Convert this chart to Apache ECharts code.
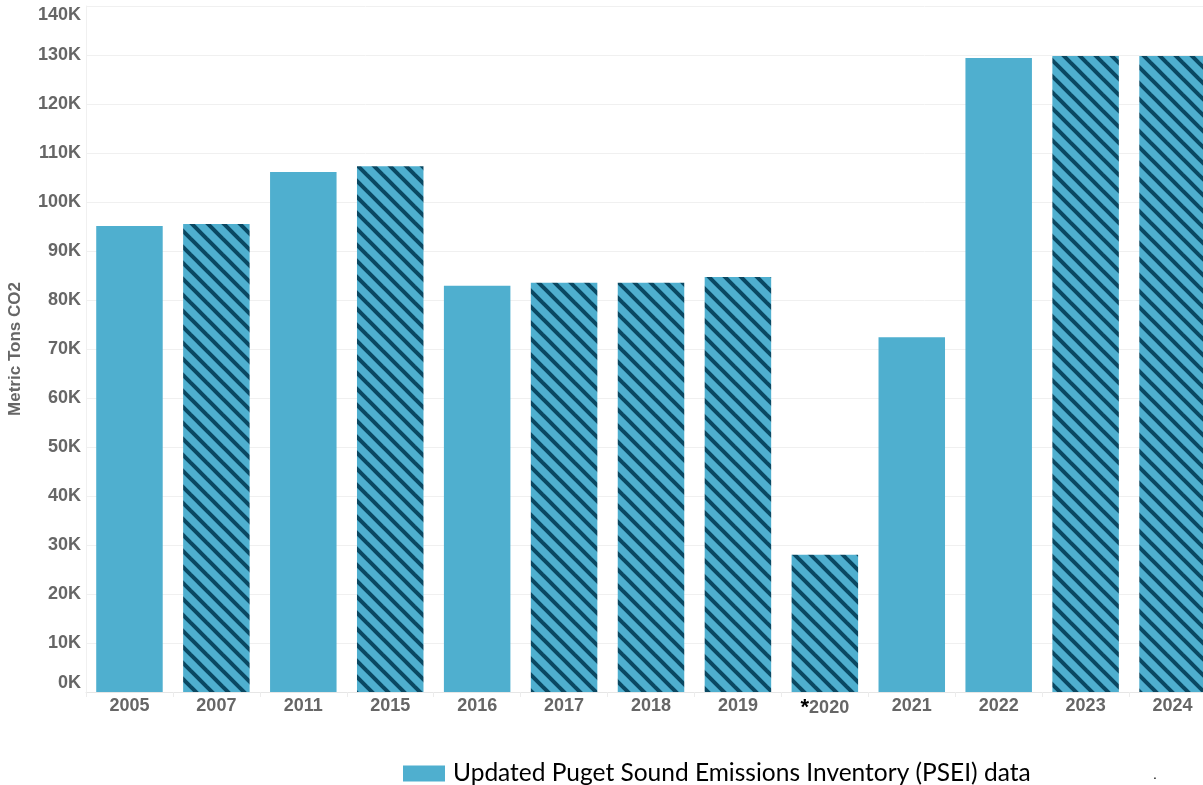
<!DOCTYPE html>
<html>
<head>
<meta charset="utf-8">
<script src="https://cdn.jsdelivr.net/npm/echarts@6/dist/echarts.min.js"></script>
<style>html,body{margin:0;padding:0;background:#fff}#c{width:1203px;height:785px}</style>
</head>
<body>
<div id="c"></div>
<script>
const years = ['2005','2007','2011','2015','2016','2017','2018','2019','2020','2021','2022','2023','2024'];
const emissions = [95100, 95500, 106100, 107300, 82900, 83500, 83500, 84700, 28000, 72400, 129400, 129800, 129800];
const hatchedYears = ['2007','2015','2017','2018','2019','2020','2023','2024'];
const starredYears = ['2020'];
const seriesName = 'Updated Puget Sound Emissions Inventory (PSEI) data';

const LIGHT = '#4FAFCF';
const DARK = '#0A4862';

function makePattern() {
  const s = 16;
  const cv = document.createElement('canvas');
  cv.width = s; cv.height = s;
  const ctx = cv.getContext('2d');
  ctx.fillStyle = LIGHT;
  ctx.fillRect(0, 0, s, s);
  ctx.strokeStyle = DARK;
  ctx.lineWidth = 4;
  for (let k = -1; k <= 1; k++) {
    ctx.beginPath();
    ctx.moveTo(-4 + k * s, -4);
    ctx.lineTo(s + 4 + k * s, s + 4);
    ctx.stroke();
  }
  return cv;
}
const pattern = { image: makePattern(), repeat: 'repeat' };

const chart = echarts.init(document.getElementById('c'));
chart.setOption({
  animation: false,
  grid: { left: 86, right: -13, top: 6, bottom: 93, containLabel: false, outerBoundsMode: 'none' },
  legend: {
    left: 403, top: 761,
    padding: 0,
    itemWidth: 42, itemHeight: 16,
    icon: 'rect',
    textStyle: { fontFamily: 'Lato', fontSize: 24.5, color: '#000', padding: [0, 0, 0, 3] },
    data: [seriesName]
  },
  xAxis: {
    type: 'category',
    data: years,
    axisLine: { lineStyle: { color: '#e6e6e6' } },
    axisTick: { show: true, length: 5, lineStyle: { color: '#ececec' } },
    axisLabel: {
      interval: 0,
      margin: 5,
      fontFamily: 'Liberation Sans, Arial',
      fontWeight: 'bold',
      fontSize: 18,
      color: '#666',
      formatter: v => starredYears.includes(v) ? '{star|*}' + v : v,
      rich: { star: { color: '#000', fontWeight: 'bold', fontSize: 22, fontFamily: 'Liberation Sans, Arial', verticalAlign: 'top' } }
    }
  },
  yAxis: {
    type: 'value',
    min: 0, max: 140000, interval: 10000,
    name: 'Metric Tons CO2',
    nameLocation: 'middle',
    nameGap: 62,
    nameTextStyle: { fontFamily: 'Liberation Sans, Arial', fontWeight: 'bold', fontSize: 17, color: '#666' },
    axisLine: { show: true, lineStyle: { color: '#f0f0f0' } },
    axisTick: { show: false },
    splitLine: { lineStyle: { color: '#f0f0f0' } },
    axisLabel: {
      margin: 5,
      fontFamily: 'Liberation Sans, Arial',
      fontWeight: 'bold',
      fontSize: 18,
      color: '#666',
      formatter: v => (v / 1000) + 'K',
      verticalAlignMaxLabel: 'top',
      verticalAlignMinLabel: 'bottom'
    }
  },
  series: [{
    name: seriesName,
    type: 'bar',
    barCategoryGap: '23.5%',
    itemStyle: { color: LIGHT },
    data: years.map((y, i) => ({
      value: emissions[i],
      itemStyle: { color: hatchedYears.includes(y) ? pattern : LIGHT }
    }))
  }],
  graphic: [{ type: 'text', left: 1153, top: 768, style: { text: '.', fontSize: 14, fill: '#000' } }]
});
</script>
</body>
</html>
